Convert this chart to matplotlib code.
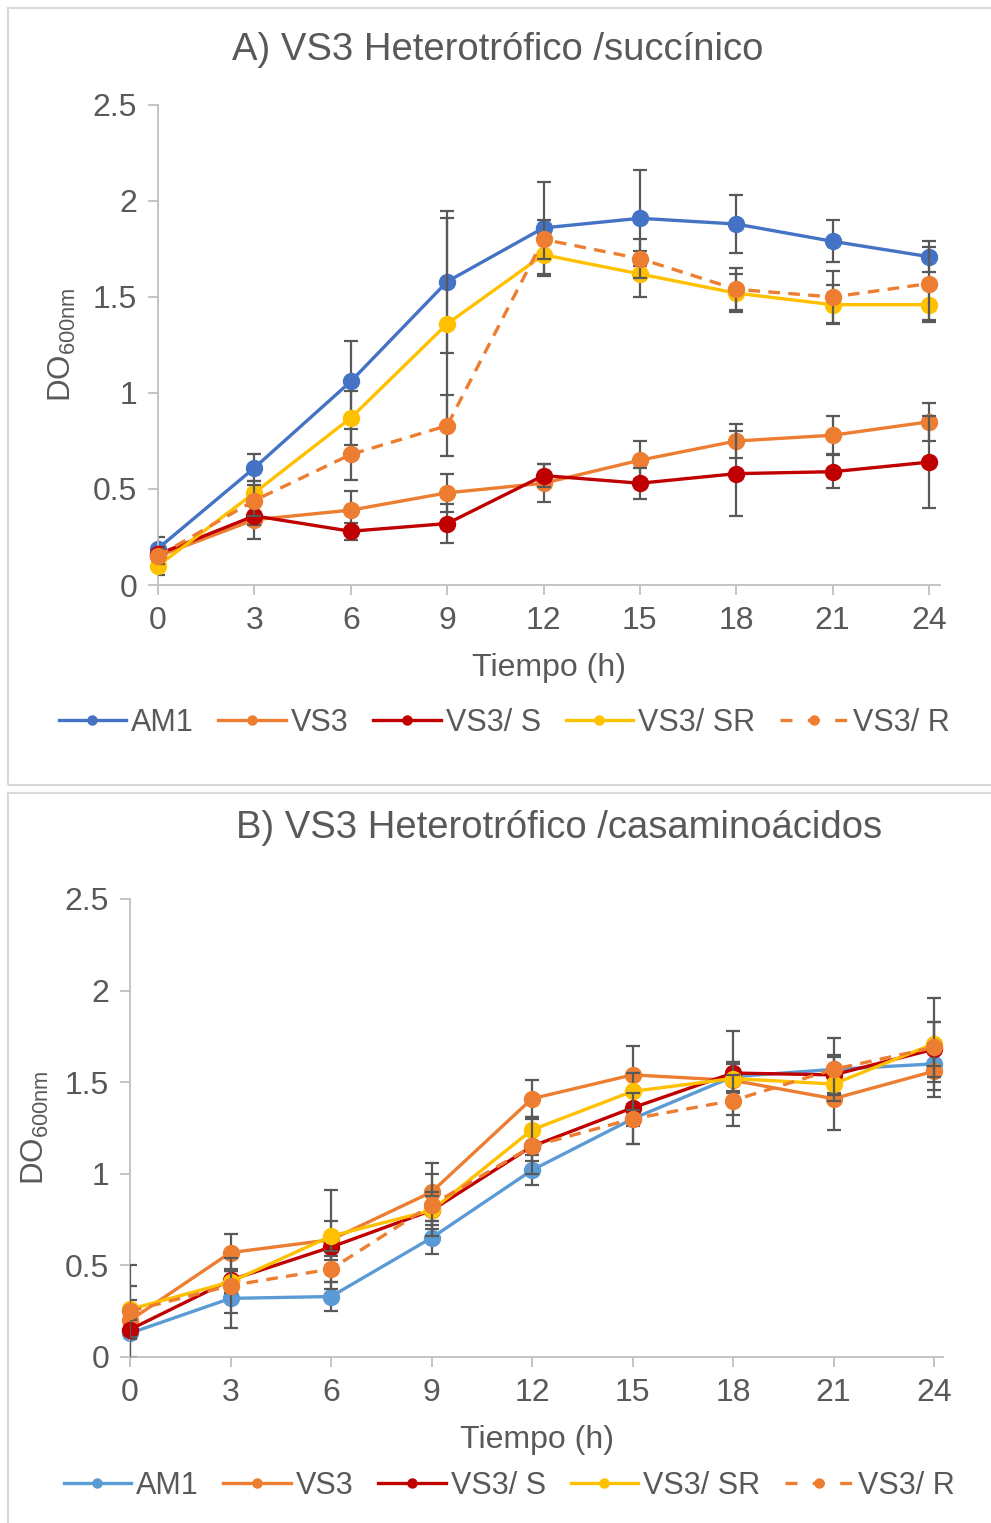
import numpy as np
import matplotlib
matplotlib.use("Agg")
import matplotlib.pyplot as plt
from matplotlib.patches import Rectangle

plt.rcParams['font.family'] = ['Liberation Sans', 'DejaVu Sans']
plt.rcParams['mathtext.default'] = 'regular'

# ---------------- data ----------------
tiempo = [0, 3, 6, 9, 12, 15, 18, 21, 24]
series_names = ["AM1", "VS3", "VS3/ S", "VS3/ SR", "VS3/ R"]

# A) succinico
am1_a = [0.19, 0.61, 1.06, 1.58, 1.86, 1.91, 1.88, 1.79, 1.71]
am1_a_err = [0.06, 0.07, 0.21, 0.37, 0.24, 0.25, 0.15, 0.11, 0.08]
vs3_a = [0.15, 0.34, 0.39, 0.48, 0.53, 0.65, 0.75, 0.78, 0.85]
vs3_a_err = [0.05, 0.10, 0.10, 0.10, 0.10, 0.10, 0.09, 0.10, 0.10]
vs3s_a = [0.16, 0.36, 0.28, 0.32, 0.57, 0.53, 0.58, 0.59, 0.64]
vs3s_a_err = [0.03, 0.05, 0.045, 0.10, 0.06, 0.08, 0.22, 0.085, 0.24]
vs3sr_a = [0.10, 0.48, 0.87, 1.36, 1.72, 1.62, 1.52, 1.46, 1.46]
vs3sr_a_err = [0.05, 0.06, 0.14, 0.55, 0.11, 0.12, 0.10, 0.10, 0.09]
vs3r_a = [0.15, 0.44, 0.68, 0.83, 1.80, 1.70, 1.54, 1.50, 1.57]
vs3r_a_err = [0.04, 0.08, 0.135, 0.16, 0.10, 0.10, 0.11, 0.135, 0.19]

# B) casaminoacidos
am1_b = [0.13, 0.32, 0.33, 0.65, 1.02, 1.30, 1.53, 1.57, 1.60]
am1_b_err = [0.13, 0.16, 0.08, 0.09, 0.08, 0.14, 0.08, 0.08, 0.10]
vs3_b = [0.20, 0.57, 0.64, 0.90, 1.41, 1.54, 1.51, 1.41, 1.56]
vs3_b_err = [0.30, 0.10, 0.27, 0.16, 0.10, 0.16, 0.10, 0.17, 0.10]
vs3s_b = [0.15, 0.42, 0.60, 0.80, 1.15, 1.36, 1.55, 1.54, 1.68]
vs3s_b_err = [0.05, 0.05, 0.07, 0.08, 0.08, 0.10, 0.23, 0.10, 0.15]
vs3sr_b = [0.26, 0.41, 0.66, 0.80, 1.24, 1.45, 1.52, 1.49, 1.71]
vs3sr_b_err = [0.05, 0.06, 0.08, 0.10, 0.07, 0.10, 0.08, 0.06, 0.12]
vs3r_b = [0.25, 0.39, 0.48, 0.83, 1.15, 1.30, 1.40, 1.57, 1.69]
vs3r_b_err = [0.14, 0.15, 0.07, 0.17, 0.15, 0.14, 0.14, 0.17, 0.27]

W, H = 991, 1523
txt = '#595959'
grid_c = '#BFBFBF'

fig = plt.figure(figsize=(W / 100, H / 100), dpi=100)

# panel frames
for (x0, y0, x1, y1) in [(8, 8, 995, 785), (8, 793, 995, 1530)]:
    fig.add_artist(Rectangle((x0 / W, 1 - y1 / H), (x1 - x0) / W, (y1 - y0) / H,
                             transform=fig.transFigure, fill=False,
                             edgecolor='#D9D9D9', linewidth=1.5))


def make_panel(box, xmax, data, am1_color, title, title_xy, xlabel_xy, ylabel_xy, leg_xy):
    left, top, right, bottom = box
    ax = fig.add_axes([left / W, 1 - bottom / H, (right - left) / W, (bottom - top) / H])
    colors = [am1_color, '#ED7D31', '#C00000', '#FFC000', '#ED7D31']
    styles = ['-', '-', '-', '-', '--']
    for i, (vals, errs) in enumerate(data):
        ax.errorbar(tiempo, vals, yerr=errs, fmt='none', ecolor='#595959',
                    elinewidth=1.6, capsize=5, capthick=1.6, zorder=2 + i)
        ln, = ax.plot(tiempo, vals, linestyle=styles[i], color=colors[i], lw=2.4,
                      marker='o', markersize=11.5, zorder=2 + i,
                      label=series_names[i], clip_on=False)
        if styles[i] == '--':
            ln.set_dashes((3.5, 2.5))
    ax.set_xlim(0, xmax)
    ax.set_ylim(0, 2.5)
    ax.set_xticks(tiempo)
    ax.set_yticks([0, 0.5, 1, 1.5, 2, 2.5])
    ax.set_yticklabels(['0', '0.5', '1', '1.5', '2', '2.5'])
    for s in ['top', 'right']:
        ax.spines[s].set_visible(False)
    for s in ['left', 'bottom']:
        ax.spines[s].set_color(grid_c)
        ax.spines[s].set_linewidth(1.3)
    ax.tick_params(axis='both', colors=grid_c, labelcolor=txt, labelsize=23,
                   length=7, width=1.3)
    ax.tick_params(axis='x', pad=8)
    ax.tick_params(axis='y', pad=8)
    fig.text(title_xy[0] / W, 1 - title_xy[1] / H, title, ha='center', va='center',
             fontsize=27.5, color=txt)
    fig.text(xlabel_xy[0] / W, 1 - xlabel_xy[1] / H, 'Tiempo (h)', ha='center',
             va='center', fontsize=23, color=txt)
    fig.text(ylabel_xy[0] / W, 1 - ylabel_xy[1] / H, r'DO$_{600nm}$', ha='center',
             va='center', fontsize=22.5, color=txt, rotation=90)
    # legend handles: line with small marker
    leg_handles = []
    for i in range(5):
        h, = ax.plot([], [], linestyle=styles[i], color=colors[i], lw=2.4,
                     marker='o', markersize=6.5)
        if styles[i] == '--':
            h.set_dashes((3.6, 4.6))
        leg_handles.append(h)
    fig.legend(leg_handles, series_names, loc='center', ncol=5, frameon=False,
               bbox_to_anchor=(leg_xy[0] / W, 1 - leg_xy[1] / H), fontsize=22,
               labelcolor=txt, handlelength=2.2, handletextpad=0.18,
               columnspacing=0.8)
    return ax


make_panel((158, 105, 940, 585), 24 * 782 / 771,
           [(am1_a, am1_a_err), (vs3_a, vs3_a_err), (vs3s_a, vs3s_a_err),
            (vs3sr_a, vs3sr_a_err), (vs3r_a, vs3r_a_err)],
           '#4472C4', 'A) VS3 Heterotrófico /succínico',
           (498, 50), (549, 668), (62, 345), (504, 723))

make_panel((130, 899, 943, 1357), 24 * 813 / 804,
           [(am1_b, am1_b_err), (vs3_b, vs3_b_err), (vs3s_b, vs3s_b_err),
            (vs3sr_b, vs3sr_b_err), (vs3r_b, vs3r_b_err)],
           '#5B9BD5', 'B) VS3 Heterotrófico /casaminoácidos',
           (559, 828), (537, 1440), (35, 1128), (509, 1486))

fig.savefig('out.png', dpi=100)
